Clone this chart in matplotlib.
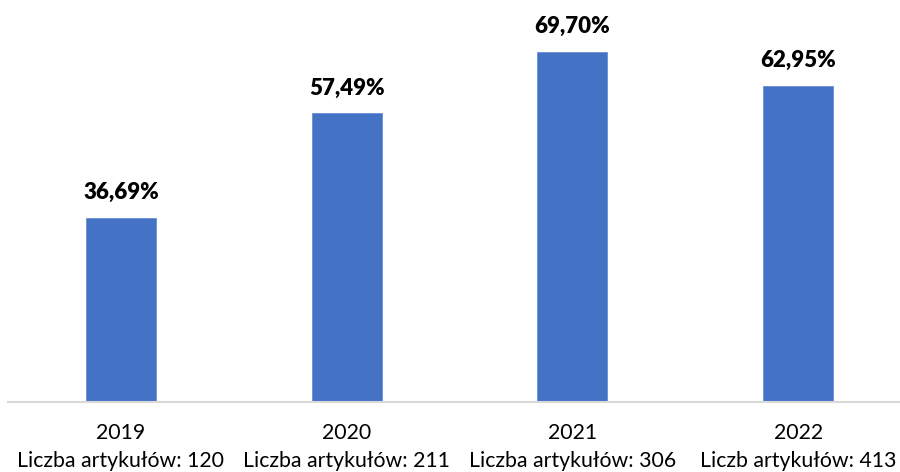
import matplotlib
matplotlib.use("Agg")
import matplotlib.pyplot as plt
from matplotlib.transforms import blended_transform_factory

# Share of articles per year, with article counts
years = ["2019", "2020", "2021", "2022"]
counts = ["Liczba artykułów: 120", "Liczba artykułów: 211",
          "Liczba artykułów: 306", "Liczb artykułów: 413"]
shares = [36.69, 57.49, 69.70, 62.95]

plt.rcParams["font.family"] = ["Lato", "DejaVu Sans"]

fig = plt.figure(figsize=(9, 4.72), dpi=100)
ax = fig.add_axes([8 / 900, 70 / 472, 903 / 900, 402 / 472])

x = range(len(years))
bars = ax.bar(x, shares, width=0.31, color="#4472c4", edgecolor="#6a8fd4", linewidth=0.6)
ax.set_xlim(-0.5, len(years) - 0.5)
ax.set_ylim(0, 80)

# value labels above the bars, Polish decimal comma
for xi, v in zip(x, shares):
    ax.annotate(f"{v:.2f}%".replace(".", ","), (xi, v), xytext=(0, 18),
                textcoords="offset points", ha="center", va="center",
                fontsize=16, fontweight="heavy", color="black")

# two-line category labels under the axis
ax.set_xticks(list(x))
ax.set_xticklabels([])
ax.tick_params(axis="x", length=0)
tr = blended_transform_factory(ax.transData, fig.transFigure)
for xi, yr, c in zip(x, years, counts):
    ax.text(xi, 1 - 433 / 472, yr, transform=tr, ha="center", va="center",
            fontsize=15.3, color="#000000")
    ax.text(xi, 1 - 461 / 472, c, transform=tr, ha="center", va="center",
            fontsize=15.3, color="#000000")

ax.set_yticks([])
for s in ["top", "right", "left"]:
    ax.spines[s].set_visible(False)
ax.spines["bottom"].set_color("#d9d9d9")
ax.spines["bottom"].set_linewidth(1.5)

fig.savefig("out.png", dpi=100)
